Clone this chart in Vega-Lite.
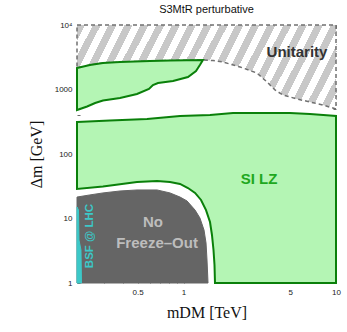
{
  "$schema": "https://vega.github.io/schema/vega-lite/v6.json",
  "width": 259,
  "height": 258,
  "autosize": "none",
  "padding": {"left": 77, "top": 25, "right": 11, "bottom": 49},
  "background": "white",
  "config": {"view": {"stroke": null}},
  "title": {"text": "S3MtR perturbative", "fontSize": 11, "font": "Liberation Sans", "fontWeight": "normal", "color": "#111", "offset": 6, "anchor": "middle"},
  "datasets": {
    "unitarity": [
      {"i": 0, "x": 0.2, "y": 10000}, {"i": 1, "x": 10, "y": 10000}, {"i": 2, "x": 10, "y": 499},
      {"i": 3, "x": 8.22, "y": 575}, {"i": 4, "x": 6.75, "y": 640}, {"i": 5, "x": 5.55, "y": 713},
      {"i": 6, "x": 4.49, "y": 822}, {"i": 7, "x": 3.98, "y": 982}, {"i": 8, "x": 3.53, "y": 1307},
      {"i": 9, "x": 3.03, "y": 1803}, {"i": 10, "x": 2.35, "y": 2233}, {"i": 11, "x": 1.81, "y": 2669},
      {"i": 12, "x": 1.56, "y": 2818}, {"i": 13, "x": 1.34, "y": 2866}, {"i": 14, "x": 0.815, "y": 2818},
      {"i": 15, "x": 0.602, "y": 2767}, {"i": 16, "x": 0.383, "y": 2669}, {"i": 17, "x": 0.296, "y": 2576},
      {"i": 18, "x": 0.243, "y": 2399}, {"i": 19, "x": 0.2, "y": 2155}
    ],
    "upper": [
      {"i": 0, "x": 0.2, "y": 2155}, {"i": 1, "x": 0.243, "y": 2399}, {"i": 2, "x": 0.296, "y": 2576},
      {"i": 3, "x": 0.383, "y": 2669}, {"i": 4, "x": 0.602, "y": 2767}, {"i": 5, "x": 0.815, "y": 2818},
      {"i": 6, "x": 1.34, "y": 2866}, {"i": 7, "x": 1.28, "y": 2399}, {"i": 8, "x": 1.207, "y": 1936},
      {"i": 9, "x": 1.069, "y": 1562}, {"i": 10, "x": 0.853, "y": 1355}, {"i": 11, "x": 0.68, "y": 1262},
      {"i": 12, "x": 0.63, "y": 1175}, {"i": 13, "x": 0.593, "y": 1018}, {"i": 14, "x": 0.495, "y": 851},
      {"i": 15, "x": 0.383, "y": 738}, {"i": 16, "x": 0.296, "y": 675}, {"i": 17, "x": 0.263, "y": 617},
      {"i": 18, "x": 0.233, "y": 545}, {"i": 19, "x": 0.2, "y": 481}
    ],
    "silz": [
      {"i": 0, "x": 0.2, "y": 313}, {"i": 1, "x": 0.329, "y": 331}, {"i": 2, "x": 0.576, "y": 349},
      {"i": 3, "x": 0.948, "y": 388}, {"i": 4, "x": 1.491, "y": 402}, {"i": 5, "x": 2.11, "y": 432},
      {"i": 6, "x": 4.99, "y": 432}, {"i": 7, "x": 6.75, "y": 417}, {"i": 8, "x": 9.13, "y": 395},
      {"i": 9, "x": 10, "y": 388}, {"i": 10, "x": 10, "y": 1}, {"i": 11, "x": 1.608, "y": 1},
      {"i": 12, "x": 1.596, "y": 1.9}, {"i": 13, "x": 1.572, "y": 3.25}, {"i": 14, "x": 1.536, "y": 5.55},
      {"i": 15, "x": 1.491, "y": 8.83}, {"i": 16, "x": 1.404, "y": 13.5}, {"i": 17, "x": 1.302, "y": 19.4},
      {"i": 18, "x": 1.19, "y": 24.9}, {"i": 19, "x": 1.069, "y": 29.7}, {"i": 20, "x": 0.948, "y": 34.3},
      {"i": 21, "x": 0.815, "y": 36.8}, {"i": 22, "x": 0.67, "y": 38.1}, {"i": 23, "x": 0.495, "y": 36.8},
      {"i": 24, "x": 0.296, "y": 31.3}, {"i": 25, "x": 0.2, "y": 28.7}
    ],
    "nofo": [
      {"i": 0, "x": 0.2, "y": 21.5}, {"i": 1, "x": 0.243, "y": 23.2}, {"i": 2, "x": 0.296, "y": 24.9},
      {"i": 3, "x": 0.383, "y": 26.7}, {"i": 4, "x": 0.495, "y": 27.7}, {"i": 5, "x": 0.67, "y": 27.7},
      {"i": 6, "x": 0.815, "y": 24.9}, {"i": 7, "x": 0.948, "y": 21.5}, {"i": 8, "x": 1.054, "y": 18.7},
      {"i": 9, "x": 1.19, "y": 13.5}, {"i": 10, "x": 1.28, "y": 10.2}, {"i": 11, "x": 1.362, "y": 6.63},
      {"i": 12, "x": 1.404, "y": 4.17}, {"i": 13, "x": 1.425, "y": 2.27}, {"i": 14, "x": 1.447, "y": 1},
      {"i": 15, "x": 0.2, "y": 1}
    ],
    "bsf": [
      {"i": 0, "x": 0.2, "y": 15.1}, {"i": 1, "x": 0.2046, "y": 13.5}, {"i": 2, "x": 0.206, "y": 4.64},
      {"i": 3, "x": 0.2124, "y": 3.25}, {"i": 4, "x": 0.214, "y": 1}, {"i": 5, "x": 0.2, "y": 1}
    ],
    "darklabels": [{"x": 5.55, "y": 3815, "text": "Unitarity"}],
    "greenlabels": [{"x": 3.13, "y": 40.9, "text": "SI LZ"}],
    "graylabels": [{"x": 0.63, "y": 8.83, "text": "No"}, {"x": 0.67, "y": 4.17, "text": "Freeze–Out"}],
    "cyanlabels": [{"x": 0.243, "y": 5.35, "text": "BSF @ LHC"}]
  },
  "resolve": {"axis": {"x": "independent", "y": "independent"}},
  "layer": [
    {
      "data": {"name": "unitarity"},
      "mark": {"type": "line", "interpolate": "linear-closed", "stroke": "#707070", "strokeWidth": 1.5, "strokeDash": [4, 3],
        "fill": {"gradient": "linear", "x1": 0, "y1": 0, "x2": 1.1338, "y2": 0.1871, "stops": [
          {"offset": 0, "color": "#c8c8c8"}, {"offset": 0.0263, "color": "#c8c8c8"}, {"offset": 0.0263, "color": "#ffffff"}, {"offset": 0.0526, "color": "#ffffff"},
          {"offset": 0.0526, "color": "#c8c8c8"}, {"offset": 0.0789, "color": "#c8c8c8"}, {"offset": 0.0789, "color": "#ffffff"}, {"offset": 0.1053, "color": "#ffffff"},
          {"offset": 0.1053, "color": "#c8c8c8"}, {"offset": 0.1316, "color": "#c8c8c8"}, {"offset": 0.1316, "color": "#ffffff"}, {"offset": 0.1579, "color": "#ffffff"},
          {"offset": 0.1579, "color": "#c8c8c8"}, {"offset": 0.1842, "color": "#c8c8c8"}, {"offset": 0.1842, "color": "#ffffff"}, {"offset": 0.2105, "color": "#ffffff"},
          {"offset": 0.2105, "color": "#c8c8c8"}, {"offset": 0.2368, "color": "#c8c8c8"}, {"offset": 0.2368, "color": "#ffffff"}, {"offset": 0.2632, "color": "#ffffff"},
          {"offset": 0.2632, "color": "#c8c8c8"}, {"offset": 0.2895, "color": "#c8c8c8"}, {"offset": 0.2895, "color": "#ffffff"}, {"offset": 0.3158, "color": "#ffffff"},
          {"offset": 0.3158, "color": "#c8c8c8"}, {"offset": 0.3421, "color": "#c8c8c8"}, {"offset": 0.3421, "color": "#ffffff"}, {"offset": 0.3684, "color": "#ffffff"},
          {"offset": 0.3684, "color": "#c8c8c8"}, {"offset": 0.3947, "color": "#c8c8c8"}, {"offset": 0.3947, "color": "#ffffff"}, {"offset": 0.4211, "color": "#ffffff"},
          {"offset": 0.4211, "color": "#c8c8c8"}, {"offset": 0.4474, "color": "#c8c8c8"}, {"offset": 0.4474, "color": "#ffffff"}, {"offset": 0.4737, "color": "#ffffff"},
          {"offset": 0.4737, "color": "#c8c8c8"}, {"offset": 0.5, "color": "#c8c8c8"}, {"offset": 0.5, "color": "#ffffff"}, {"offset": 0.5263, "color": "#ffffff"},
          {"offset": 0.5263, "color": "#c8c8c8"}, {"offset": 0.5526, "color": "#c8c8c8"}, {"offset": 0.5526, "color": "#ffffff"}, {"offset": 0.5789, "color": "#ffffff"},
          {"offset": 0.5789, "color": "#c8c8c8"}, {"offset": 0.6053, "color": "#c8c8c8"}, {"offset": 0.6053, "color": "#ffffff"}, {"offset": 0.6316, "color": "#ffffff"},
          {"offset": 0.6316, "color": "#c8c8c8"}, {"offset": 0.6579, "color": "#c8c8c8"}, {"offset": 0.6579, "color": "#ffffff"}, {"offset": 0.6842, "color": "#ffffff"},
          {"offset": 0.6842, "color": "#c8c8c8"}, {"offset": 0.7105, "color": "#c8c8c8"}, {"offset": 0.7105, "color": "#ffffff"}, {"offset": 0.7368, "color": "#ffffff"},
          {"offset": 0.7368, "color": "#c8c8c8"}, {"offset": 0.7632, "color": "#c8c8c8"}, {"offset": 0.7632, "color": "#ffffff"}, {"offset": 0.7895, "color": "#ffffff"},
          {"offset": 0.7895, "color": "#c8c8c8"}, {"offset": 0.8158, "color": "#c8c8c8"}, {"offset": 0.8158, "color": "#ffffff"}, {"offset": 0.8421, "color": "#ffffff"},
          {"offset": 0.8421, "color": "#c8c8c8"}, {"offset": 0.8684, "color": "#c8c8c8"}, {"offset": 0.8684, "color": "#ffffff"}, {"offset": 0.8947, "color": "#ffffff"},
          {"offset": 0.8947, "color": "#c8c8c8"}, {"offset": 0.9211, "color": "#c8c8c8"}, {"offset": 0.9211, "color": "#ffffff"}, {"offset": 0.9474, "color": "#ffffff"},
          {"offset": 0.9474, "color": "#c8c8c8"}, {"offset": 0.9737, "color": "#c8c8c8"}, {"offset": 0.9737, "color": "#ffffff"}, {"offset": 1, "color": "#ffffff"}
        ]}},
      "encoding": {
        "x": {"field": "x", "type": "quantitative", "scale": {"type": "log", "domain": [0.2, 10], "nice": false, "zero": false},
          "title": "mDM [TeV]",
          "axis": {"orient": "bottom", "values": [0.3, 0.4, 0.5, 0.6, 0.7, 0.8, 0.9, 1, 2, 3, 4, 5, 6, 7, 8, 9, 10],
            "format": "~g", "labelExpr": "(datum.value == 0.5 || datum.value == 1 || datum.value == 5 || datum.value == 10) ? datum.label : ''",
            "labelOverlap": false, "labelFlush": false, "domain": false, "grid": false,
            "tickSize": -3, "tickColor": "#444", "tickWidth": 0.8, "labelPadding": 8,
            "labelFont": "Liberation Sans", "labelFontSize": 8, "labelColor": "#222",
            "titleFont": "Liberation Serif", "titleFontSize": 16, "titleFontWeight": "normal", "titleColor": "#111", "titlePadding": 8}},
        "y": {"field": "y", "type": "quantitative", "scale": {"type": "log", "domain": [1, 10000], "nice": false, "zero": false},
          "title": "Δm [GeV]",
          "axis": {"orient": "left", "values": [1, 2, 3, 4, 5, 6, 7, 8, 9, 10, 20, 30, 40, 50, 60, 70, 80, 90, 100, 200, 300, 400, 500, 600, 700, 800, 900, 1000, 2000, 3000, 4000, 5000, 6000, 7000, 8000, 9000, 10000],
            "format": "d", "labelExpr": "datum.value == 10000 ? '10⁴' : ((datum.value == 1 || datum.value == 10 || datum.value == 100 || datum.value == 1000) ? datum.label : '')",
            "labelOverlap": false, "labelFlush": false, "domain": false, "grid": false,
            "tickSize": -3, "tickColor": "#444", "tickWidth": 0.8, "labelPadding": 8,
            "labelFont": "Liberation Sans", "labelFontSize": 8, "labelColor": "#222",
            "titleFont": "Liberation Serif", "titleFontSize": 16, "titleFontWeight": "normal", "titleColor": "#111", "titlePadding": 10}},
        "order": {"field": "i", "type": "quantitative"}
      }
    },
    {
      "data": {"name": "upper"},
      "mark": {"type": "line", "interpolate": "linear-closed", "fill": "#b4f5b4", "stroke": "#0a800a", "strokeWidth": 2},
      "encoding": {
        "x": {"field": "x", "type": "quantitative", "axis": null},
        "y": {"field": "y", "type": "quantitative", "axis": null},
        "order": {"field": "i", "type": "quantitative"}
      }
    },
    {
      "data": {"name": "silz"},
      "mark": {"type": "line", "interpolate": "linear-closed", "fill": "#b4f5b4", "stroke": "#0a800a", "strokeWidth": 2},
      "encoding": {
        "x": {"field": "x", "type": "quantitative", "axis": null},
        "y": {"field": "y", "type": "quantitative", "axis": null},
        "order": {"field": "i", "type": "quantitative"}
      }
    },
    {
      "data": {"name": "nofo"},
      "mark": {"type": "line", "interpolate": "linear-closed", "fill": "#656565", "stroke": "#656565", "strokeWidth": 1},
      "encoding": {
        "x": {"field": "x", "type": "quantitative", "axis": null},
        "y": {"field": "y", "type": "quantitative", "axis": null},
        "order": {"field": "i", "type": "quantitative"}
      }
    },
    {
      "data": {"name": "bsf"},
      "mark": {"type": "line", "interpolate": "linear-closed", "fill": "#3cc8c8", "stroke": "#3cc8c8", "strokeWidth": 1},
      "encoding": {
        "x": {"field": "x", "type": "quantitative",
          "axis": {"orient": "top", "values": [0.3, 0.4, 0.5, 0.6, 0.7, 0.8, 0.9, 1, 2, 3, 4, 5, 6, 7, 8, 9, 10], "labels": false, "title": null, "domain": false, "grid": false, "tickSize": -3, "tickColor": "#444", "tickWidth": 0.8}},
        "y": {"field": "y", "type": "quantitative",
          "axis": {"orient": "right", "values": [1, 2, 3, 4, 5, 6, 7, 8, 9, 10, 20, 30, 40, 50, 60, 70, 80, 90, 100, 200, 300, 400, 500, 600, 700, 800, 900, 1000, 2000, 3000, 4000, 5000, 6000, 7000, 8000, 9000, 10000], "labels": false, "title": null, "domain": false, "grid": false, "tickSize": -3, "tickColor": "#444", "tickWidth": 0.8}},
        "order": {"field": "i", "type": "quantitative"}
      }
    },
    {
      "data": {"name": "darklabels"},
      "mark": {"type": "text", "font": "Liberation Sans", "fontSize": 15, "fontWeight": "bold", "color": "#333333", "align": "center", "baseline": "middle"},
      "encoding": {
        "x": {"field": "x", "type": "quantitative", "axis": null},
        "y": {"field": "y", "type": "quantitative", "axis": null},
        "text": {"field": "text"}
      }
    },
    {
      "data": {"name": "greenlabels"},
      "mark": {"type": "text", "font": "Liberation Sans", "fontSize": 15, "fontWeight": "bold", "color": "#1ea81e", "align": "center", "baseline": "middle"},
      "encoding": {
        "x": {"field": "x", "type": "quantitative", "axis": null},
        "y": {"field": "y", "type": "quantitative", "axis": null},
        "text": {"field": "text"}
      }
    },
    {
      "data": {"name": "graylabels"},
      "mark": {"type": "text", "font": "Liberation Sans", "fontSize": 15, "fontWeight": "bold", "color": "#bdbdbd", "align": "center", "baseline": "middle"},
      "encoding": {
        "x": {"field": "x", "type": "quantitative", "axis": null},
        "y": {"field": "y", "type": "quantitative", "axis": null},
        "text": {"field": "text"}
      }
    },
    {
      "data": {"name": "cyanlabels"},
      "mark": {"type": "text", "font": "Liberation Sans", "fontSize": 11.5, "fontWeight": "bold", "color": "#3cc8c8", "align": "center", "baseline": "middle", "angle": 270},
      "encoding": {
        "x": {"field": "x", "type": "quantitative", "axis": null},
        "y": {"field": "y", "type": "quantitative", "axis": null},
        "text": {"field": "text"}
      }
    }
  ]
}
